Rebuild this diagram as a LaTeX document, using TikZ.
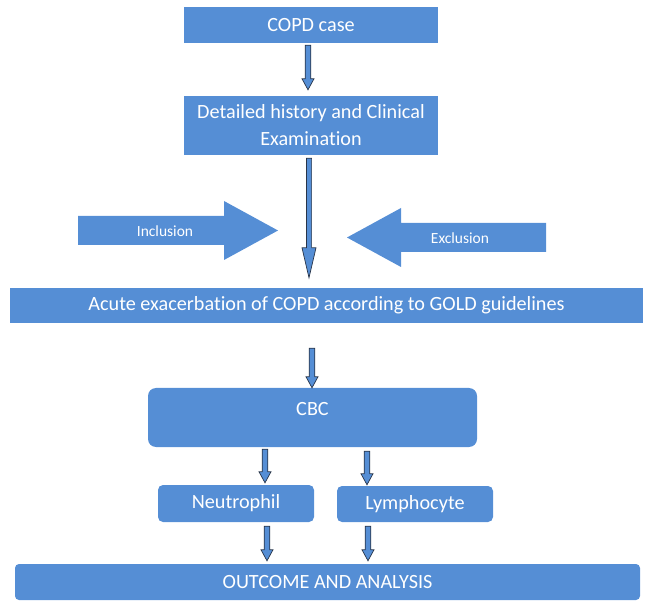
\documentclass[tikz,border=0pt]{standalone}
\usepackage{fontspec}
\setmainfont[Ligatures={NoCommon}]{Carlito}
\usetikzlibrary{calc}
\definecolor{boxblue}{RGB}{85,142,213}
\definecolor{arrline}{RGB}{40,52,72}
\begin{document}
\begin{tikzpicture}[x=1pt,y=-1pt,
  box/.style={fill=boxblue, draw=none, inner sep=0pt, text=white, align=center,
    font=\fontsize{20.2}{27}\selectfont},
  bigarrow/.style={fill=boxblue, draw=none},
  smalltext/.style={text=white, inner sep=0pt, font=\fontsize{15.5}{18}\selectfont},
  blockarrow/.style n args={3}{fill=boxblue, draw=arrline, line width=0.7pt, line join=miter,
    to path={let \p1=(\tikztostart), \p2=(\tikztotarget) in
      (\x1-#3,\y1) -- (\x1+#3,\y1) -- (\x1+#3,\y2+#2) -- (\x1+#1,\y2+#2) -- (\x1,\y2)
      -- (\x1-#1,\y2+#2) -- (\x1-#3,\y2+#2) -- cycle}},
  smallarrow/.style={blockarrow={6pt}{11pt}{2.8pt}},
  longarrow/.style={blockarrow={7pt}{30pt}{2.6pt}}
]
\path[use as bounding box] (0,0) rectangle (648,601);

\node[box, minimum width=254, minimum height=36] (copd) at (311,25) {COPD case};
\node[box, minimum width=254, minimum height=59] (det) at (311,125.5) {Detailed history and Clinical\\Examination};
\node[box, minimum width=633, minimum height=35] (gold) at (326.5,305.5) {Acute exacerbation of COPD according to GOLD guidelines};
\node[box, minimum width=329, minimum height=59, rounded corners=8pt] (cbc) at (312.5,417.5) {};
\node[box, anchor=center] (cbctext) at (312.5,409) {CBC};
\node[box, minimum width=156, minimum height=37, rounded corners=5pt] (neut) at (236,503.5) {Neutrophil};
\node[box, minimum width=156, minimum height=36, rounded corners=5pt] (lymph) at (415,504) {Lymphocyte};
\node[box, minimum width=625, minimum height=36, rounded corners=4pt] (out) at (327.5,582) {OUTCOME AND ANALYSIS};

% inclusion / exclusion block arrows
\fill[bigarrow] (78,216) -- (224,216) -- (224,201) -- (278,230.5) -- (224,260) -- (224,245) -- (78,245) -- cycle;
\node[smalltext] (incl) at (165,231) {Inclusion};
\fill[bigarrow] (546,223) -- (401,223) -- (401,208) -- (347,237.5) -- (401,267) -- (401,252) -- (546,252) -- cycle;
\node[smalltext] (excl) at (460,238) {Exclusion};

% connectors
\draw[smallarrow] ([xshift=-3,yshift=-2]copd.south) to ([yshift=6]det.north);
\draw[longarrow] ([xshift=-2,yshift=-3]det.south) to ([yshift=10]gold.north);
\draw[smallarrow] ([xshift=-14.5,yshift=-25]gold.south) to ([yshift=0]cbc.north);
\draw[smallarrow] ([xshift=-47.5,yshift=-2]cbc.south) to ([yshift=2]neut.north);
\draw[smallarrow] ([xshift=54.5,yshift=-4]cbc.south) to ([yshift=1]lymph.north);
\draw[smallarrow] ([xshift=31,yshift=-4]neut.south) to ([yshift=3]out.north);
\draw[smallarrow] ([xshift=-47,yshift=-4]lymph.south) to ([yshift=3]out.north);
\end{tikzpicture}
\end{document}
